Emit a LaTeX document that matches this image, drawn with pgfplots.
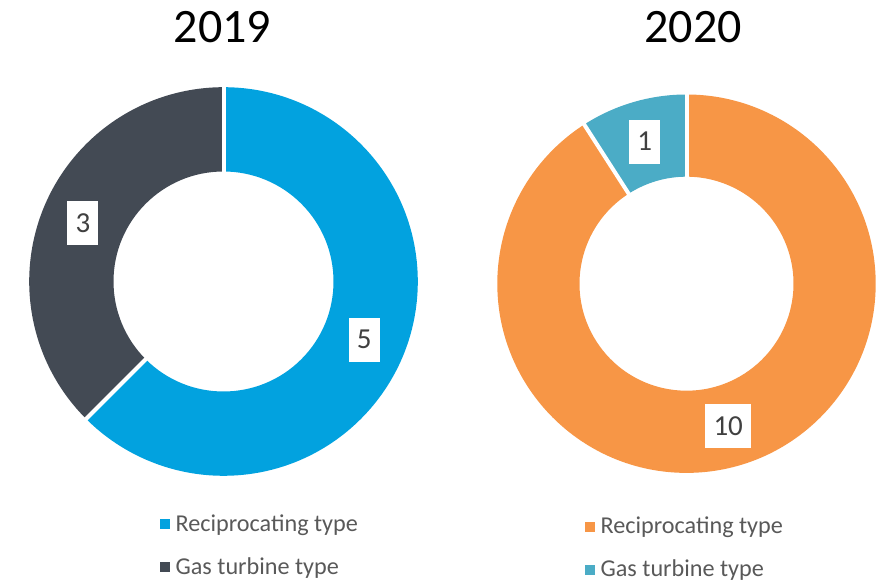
\documentclass[border=0pt]{standalone}
\usepackage{fontspec}
\setmainfont{Carlito}
\usepackage{pgfplots}
\usepackage{pgfplotstable}
\pgfplotsset{compat=1.18}
\definecolor{recipA}{HTML}{02A2DF}
\definecolor{gasA}{HTML}{434A54}
\definecolor{recipB}{HTML}{F79646}
\definecolor{gasB}{HTML}{4BACC6}
\definecolor{lbltext}{HTML}{404040}
\definecolor{legtext}{HTML}{595959}

\pgfplotstableread{
type value
Reciprocating 5
GasTurbine 3
}\dataA
\pgfplotstableread{
type value
Reciprocating 10
GasTurbine 1
}\dataB

% ring segment between two angles (clockwise when #2 < #1)
\newcommand\donutslice[5]{%
  \fill[#5] (axis cs:{#3*cos(#1)},{#3*sin(#1)}) arc[start angle=#1, end angle=#2, radius=#3pt]
    -- (axis cs:{#4*cos(#2)},{#4*sin(#2)}) arc[start angle=#2, end angle=#1, radius=#4pt] -- cycle;}
\newcommand\donutgap[3]{%
  \draw[white, line width=4pt] (axis cs:{(#2-3)*cos(#1)},{(#2-3)*sin(#1)}) -- (axis cs:{(#3+3)*cos(#1)},{(#3+3)*sin(#1)});}

\pgfplotsset{donut/.style={
  x=1pt, y=1pt, xmin=-200, xmax=200, ymin=-200, ymax=200,
  hide axis, anchor=center, clip=false,
  legend cell align=left,
  legend image code/.code={\fill[##1] (0pt,2.9pt) rectangle (8.7pt,11.6pt);},
  legend style={draw=none, fill=none, inner sep=0pt, outer sep=0pt,
    font=\fontsize{24.2}{29}\selectfont, cells={anchor=base west},
    nodes={inner sep=0pt, text height=16pt, text depth=6pt, text=legtext},
    row sep=21pt, column sep=6.5pt, anchor=north west}}}
\tikzset{
  lblbox/.style={fill=white, inner xsep=8.2pt, inner ysep=0pt, minimum height=44pt,
    text=lbltext, font=\fontsize{29}{34}\selectfont},
  yeartitle/.style={anchor=base, font=\fontsize{48}{58}\selectfont, text=black}}

\begin{document}
\begin{tikzpicture}
\useasboundingbox (0,0) rectangle (879pt,583pt);

% ---- 2019 ----
\pgfplotstablegetelem{0}{value}\of\dataA\let\aOne\pgfplotsretval
\pgfplotstablegetelem{1}{value}\of\dataA\let\aTwo\pgfplotsretval
\pgfmathsetmacro\aCut{90-360*\aOne/(\aOne+\aTwo)}
\pgfmathsetmacro\aMidOne{(90+\aCut)/2}
\pgfmathsetmacro\aMidTwo{(\aCut-270)/2}
\begin{axis}[donut, at={(223.5pt,301.5pt)},
  legend style={at={(axis cs:-63.5,-233.6)}}]
\addlegendimage{recipA}\addlegendentry{Reciprocating type}
\addlegendimage{gasA}\addlegendentry{Gas turbine type}
\donutslice{90}{\aCut}{194.3}{110}{recipA}
\donutslice{\aCut}{-270}{194.3}{110}{gasA}
\donutgap{90}{110}{194.3}
\donutgap{\aCut}{110}{194.3}
\node[lblbox] at (axis cs:{152.2*cos(\aMidOne)},{152.2*sin(\aMidOne)}) {\aOne};
\node[lblbox] at (axis cs:{152.2*cos(\aMidTwo)},{152.2*sin(\aMidTwo)}) {\aTwo};
\node[yeartitle] at (axis cs:-1,238.8) {2019};
\end{axis}

% ---- 2020 ----
\pgfplotstablegetelem{0}{value}\of\dataB\let\bOne\pgfplotsretval
\pgfplotstablegetelem{1}{value}\of\dataB\let\bTwo\pgfplotsretval
\pgfmathsetmacro\bCut{90-360*\bOne/(\bOne+\bTwo)}
\pgfmathsetmacro\bMidOne{(90+\bCut)/2}
\pgfmathsetmacro\bMidTwo{(\bCut-270)/2}
\begin{axis}[donut, at={(686.5pt,299.3pt)},
  legend style={at={(axis cs:-101.5,-234.2)}}]
\addlegendimage{recipB}\addlegendentry{Reciprocating type}
\addlegendimage{gasB}\addlegendentry{Gas turbine type}
\donutslice{90}{\bCut}{189.2}{107}{recipB}
\donutslice{\bCut}{-270}{189.2}{107}{gasB}
\donutgap{90}{107}{189.2}
\donutgap{\bCut}{107}{189.2}
\node[lblbox] at (axis cs:{148.1*cos(\bMidOne)},{148.1*sin(\bMidOne)}) {\bOne};
\node[lblbox] at (axis cs:{148.1*cos(\bMidTwo)},{148.1*sin(\bMidTwo)}) {\bTwo};
\node[yeartitle] at (axis cs:6.8,241) {2020};
\end{axis}
\end{tikzpicture}
\end{document}
